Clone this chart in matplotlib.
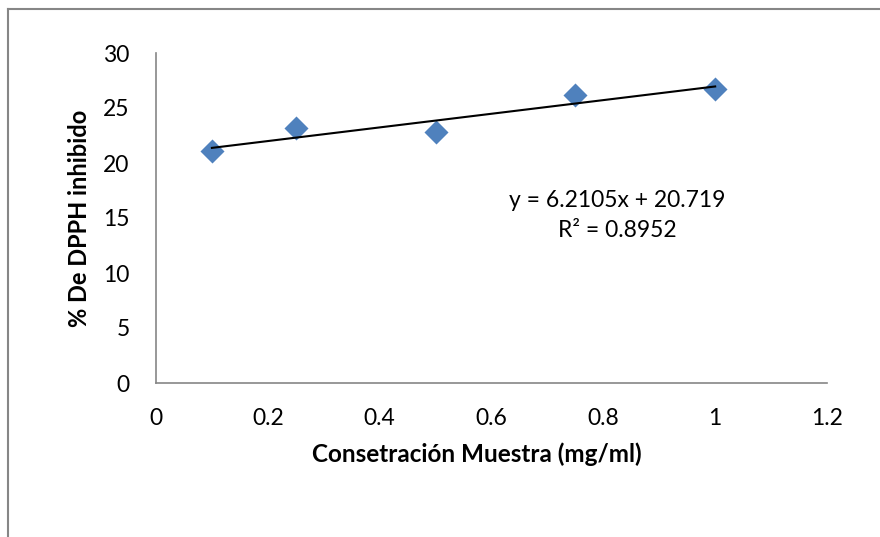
import matplotlib
matplotlib.use("Agg")
import matplotlib.pyplot as plt
from matplotlib.lines import Line2D
import numpy as np

plt.rcParams['font.family'] = ['Lato', 'DejaVu Sans']

x_vals = [0.1, 0.25, 0.5, 0.75, 1.0]
y_vals = [21.05, 23.15, 22.8, 26.15, 26.75]
x_ticks = [0, 0.2, 0.4, 0.6, 0.8, 1, 1.2]
x_tick_labels = ["0", "0.2", "0.4", "0.6", "0.8", "1", "1.2"]
y_ticks = [0, 5, 10, 15, 20, 25, 30]
eq_text = "y = 6.2105x + 20.719\nR² = 0.8952"

fig = plt.figure(figsize=(8.8, 5.37), dpi=100)
W, H = 880, 537
ax = fig.add_axes([156 / W, 1 - 383 / H, (827 - 156) / W, (383 - 53) / H])

ax.scatter(x_vals, y_vals, marker='D', s=150, color='#4F81BD', zorder=3, linewidths=0)
coef = np.polyfit(x_vals, y_vals, 1)
xl = np.array([min(x_vals), max(x_vals)])
ax.plot(xl, np.polyval(coef, xl), color='black', lw=1.5, zorder=4)

ax.set_xlim(0, 1.2)
ax.set_ylim(0, 30)
ax.set_xticks(x_ticks)
ax.set_xticklabels(x_tick_labels)
ax.set_yticks(y_ticks)
ax.tick_params(length=0, labelsize=16.5)
ax.tick_params(axis='x', pad=18)
ax.tick_params(axis='y', pad=19)
for s in ['top', 'right']:
    ax.spines[s].set_visible(False)
for s in ['left', 'bottom']:
    ax.spines[s].set_color('#868686')
    ax.spines[s].set_linewidth(1.2)

ax.set_xlabel("Consetración Muestra (mg/ml)", fontsize=17.5, fontweight='bold', labelpad=10, x=0.478)
ax.set_ylabel("% De DPPH inhibido", fontsize=17, fontweight='bold', labelpad=9)

ax.text(0.825, 15.2, eq_text, ha='center', va='center', fontsize=16.5, linespacing=1.55)

fig.add_artist(Line2D([8 / W, 8 / W], [0, 1 - 9 / H], color='#868686', lw=1.5, transform=fig.transFigure))
fig.add_artist(Line2D([8 / W, 1], [1 - 9 / H, 1 - 9 / H], color='#868686', lw=1.5, transform=fig.transFigure))

fig.savefig("out.png", dpi=100)
